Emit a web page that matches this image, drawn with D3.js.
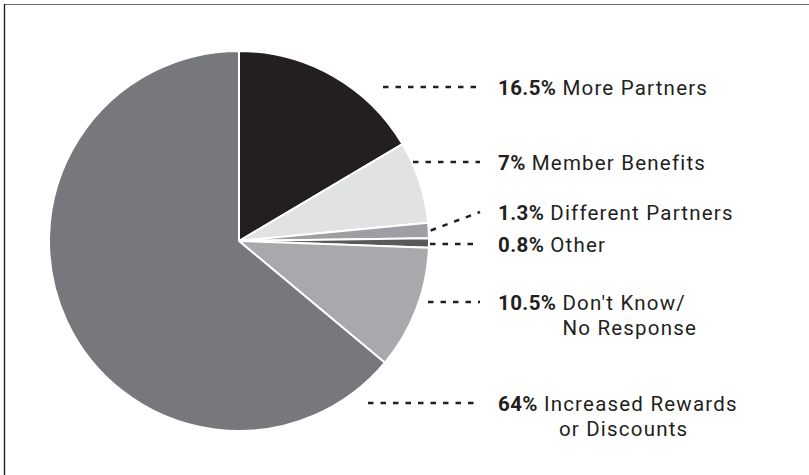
<!DOCTYPE html>
<html>
<head>
<meta charset="utf-8">
<script src="https://cdn.jsdelivr.net/npm/d3@7/dist/d3.min.js"></script>
<style>
  html, body { margin: 0; padding: 0; background: #fff; }
  svg { display: block; }
  text { font-family: Roboto, "Noto Sans", sans-serif; fill: #231f20; }
</style>
</head>
<body>
<script>
// Survey answers, in clockwise order from 12 o'clock
const categories = ["More Partners", "Member Benefits", "Different Partners", "Other", "Don't Know/ No Response", "Increased Rewards or Discounts"];
const values = [16.5, 7, 1.3, 0.8, 10.5, 64];
const valueLabels = ["16.5%", "7%", "1.3%", "0.8%", "10.5%", "64%"];
const nameLines = [["More Partners"], ["Member Benefits"], ["Different Partners"], ["Other"], ["Don't Know/", "No Response"], ["Increased Rewards", "or Discounts"]];
const colors = ["#231f20", "#e1e2e3", "#9d9fa2", "#58595b", "#a7a9ac", "#77787b"];

const W = 809, H = 475;
const cx = 239, cy = 241, R = 190;

const svg = d3.select("body").append("svg").attr("width", W).attr("height", H);

// frame: top and left rules
svg.append("line").attr("x1", 4).attr("x2", W).attr("y1", 4.5).attr("y2", 4.5)
  .attr("stroke", "#6a6a6a").attr("stroke-width", 1.2);
svg.append("line").attr("x1", 4.5).attr("x2", 4.5).attr("y1", 4).attr("y2", H)
  .attr("stroke", "#231f20").attr("stroke-width", 1.4);

const pie = d3.pie().sort(null).value(d => d)(values);
const arc = d3.arc().innerRadius(0).outerRadius(R);

const g = svg.append("g").attr("transform", `translate(${cx},${cy})`);
g.selectAll("path").data(pie).join("path")
  .attr("d", arc)
  .attr("fill", (d, i) => colors[i])
  .attr("stroke", "#fff")
  .attr("stroke-width", 2)
  .attr("stroke-linejoin", "round");

// label layout: leader y, leader start x, indent of the second line
const labelX = 498, lineEnd = 480;
const labelY = [87, 162, 212, 244, 302, 403];
const leaderStartX = [383, 413, null, 430, 428, 368];
const secondIndent = [0, 0, 0, 0, 0, 15];
const fontSize = 20.5, spacing = 1.2;

pie.forEach((d, i) => {
  const y = labelY[i];
  let x1, y1;
  if (leaderStartX[i] === null) {
    // leader starts on the slice rim at its mid angle
    const a = (d.startAngle + d.endAngle) / 2;
    x1 = cx + (R + 2) * Math.sin(a);
    y1 = cy - (R + 2) * Math.cos(a);
  } else {
    x1 = leaderStartX[i];
    y1 = y;
  }
  svg.append("line")
    .attr("x1", x1).attr("y1", y1).attr("x2", lineEnd).attr("y2", y)
    .attr("stroke", "#231f20").attr("stroke-width", 2.5)
    .attr("stroke-dasharray", "5.5,7");

  const t = svg.append("text").attr("x", labelX).attr("y", y + 8)
    .attr("font-size", fontSize).attr("letter-spacing", spacing);
  const v = t.append("tspan").attr("font-weight", 700).attr("letter-spacing", 0.4).text(valueLabels[i]);
  const gap = 6;
  t.append("tspan").attr("dx", gap).text(nameLines[i][0]);
  if (nameLines[i][1]) {
    const nameStart = labelX + v.node().getComputedTextLength() + gap;
    svg.append("text").attr("x", nameStart + secondIndent[i]).attr("y", y + 33)
      .attr("font-size", fontSize).attr("letter-spacing", spacing)
      .text(nameLines[i][1]);
  }
});
</script>
</body>
</html>
